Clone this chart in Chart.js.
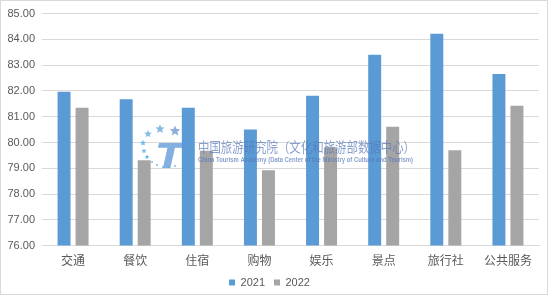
<!DOCTYPE html>
<html><head><meta charset="utf-8">
<script src="https://cdn.jsdelivr.net/npm/chart.js@4"></script>
<style>
html,body{margin:0;padding:0;background:#fff;}
#wrap{position:relative;width:553px;height:298px;}
#frame{position:absolute;left:0;top:0;width:548px;height:295px;border:1px solid #d9d9d9;box-sizing:border-box;pointer-events:none;}
</style></head>
<body><div id="wrap"><canvas id="c" width="553" height="298"></canvas><div id="frame"></div></div>
<script>
const categories = ['交通','餐饮','住宿','购物','娱乐','景点','旅行社','公共服务'];
const series2021 = [81.97, 81.68, 81.35, 80.50, 81.81, 83.40, 84.22, 82.66];
const series2022 = [81.35, 79.31, 79.68, 78.92, 79.82, 80.61, 79.70, 81.43];
const seriesNames = ['2021','2022'];
const yMin = 76, yMax = 85, yStep = 1;

const watermark = {
  id:'watermark',
  afterDatasetsDraw(chart){
    const ctx = chart.ctx;
    ctx.save();
    function star(cx,cy,r,color){
      ctx.beginPath();
      for(let i=0;i<10;i++){
        const a = -Math.PI/2 + i*Math.PI/5;
        const rr = i%2===0 ? r : r*0.45;
        ctx.lineTo(cx+rr*Math.cos(a), cy+rr*Math.sin(a));
      }
      ctx.closePath(); ctx.fillStyle=color; ctx.fill();
    }
    star(175,131,5.5,'rgba(120,160,210,0.85)');
    star(160,129,4.8,'rgba(120,170,220,0.85)');
    star(148,134,4,'rgba(110,180,230,0.85)');
    star(143,143,3.2,'rgba(90,180,235,0.85)');
    star(144,151,2.8,'rgba(90,180,235,0.85)');
    star(147,157,2.4,'rgba(60,160,230,0.85)');
    ctx.font = 'italic bold 36px "DejaVu Sans"';
    ctx.fillStyle = 'rgba(90,150,215,0.75)';
    ctx.textAlign='left'; ctx.textBaseline='alphabetic';
    ctx.save();
    ctx.translate(156,168);
    ctx.scale(1.1,0.95);
    ctx.fillText('T',0,0);
    ctx.restore();
    ctx.fillStyle='rgba(90,170,230,0.8)';
    [[152,162],[157,165],[163,167],[169,167],[175,166]].forEach(p=>{ctx.beginPath();ctx.arc(p[0],p[1],1,0,Math.PI*2);ctx.fill();});
    const cn = '中国旅游研究院（文化和旅游部数据中心）';
    ctx.font = '13px "Noto Sans CJK SC"';
    let w = ctx.measureText(cn).width;
    ctx.save();
    ctx.translate(198,152);
    ctx.scale(217/w,1.05);
    ctx.fillStyle='rgba(85,120,185,0.7)';
    ctx.fillText(cn,0,0);
    ctx.restore();
    const en = 'China Tourism Academy (Data Center of the Ministry of Culture and Tourism)';
    ctx.font = 'bold 7px "Liberation Sans"';
    w = ctx.measureText(en).width;
    ctx.save();
    ctx.translate(198,161.5);
    ctx.scale(215/w,1);
    ctx.fillStyle='rgba(85,120,185,0.7)';
    ctx.fillText(en,0,0);
    ctx.restore();
    ctx.restore();
  }
};

new Chart(document.getElementById('c'), {
  type:'bar',
  data:{
    labels:categories,
    datasets:[
      {label:seriesNames[0], data:series2021, backgroundColor:'#5B9BD5', borderWidth:0},
      {label:seriesNames[1], data:series2022, backgroundColor:'#A5A5A5', borderWidth:0}
    ]
  },
  options:{
    responsive:false,
    animation:false,
    devicePixelRatio:1,
    layout:{padding:{top:8,right:14,bottom:0,left:0}},
    datasets:{bar:{categoryPercentage:0.58, barPercentage:0.72}},
    plugins:{
      legend:{position:'bottom', labels:{boxWidth:6, boxHeight:6, padding:9, color:'#595959', font:{family:'"Liberation Sans"', size:11}}},
      tooltip:{enabled:false}
    },
    scales:{
      x:{
        grid:{display:false},
        border:{display:true,color:'#d9d9d9'},
        ticks:{color:'#595959', padding:0, font:{family:'"Noto Sans CJK SC"', size:12}}
      },
      y:{
        min:yMin, max:yMax,
        afterFit(s){ s.width = 42; },
        grid:{color:'#d9d9d9', drawTicks:false},
        border:{display:false},
        ticks:{stepSize:yStep, padding:7, color:'#595959', font:{family:'"Liberation Sans"', size:11}, callback:v=>v.toFixed(2)}
      }
    }
  },
  plugins:[watermark]
});
</script></body></html>
